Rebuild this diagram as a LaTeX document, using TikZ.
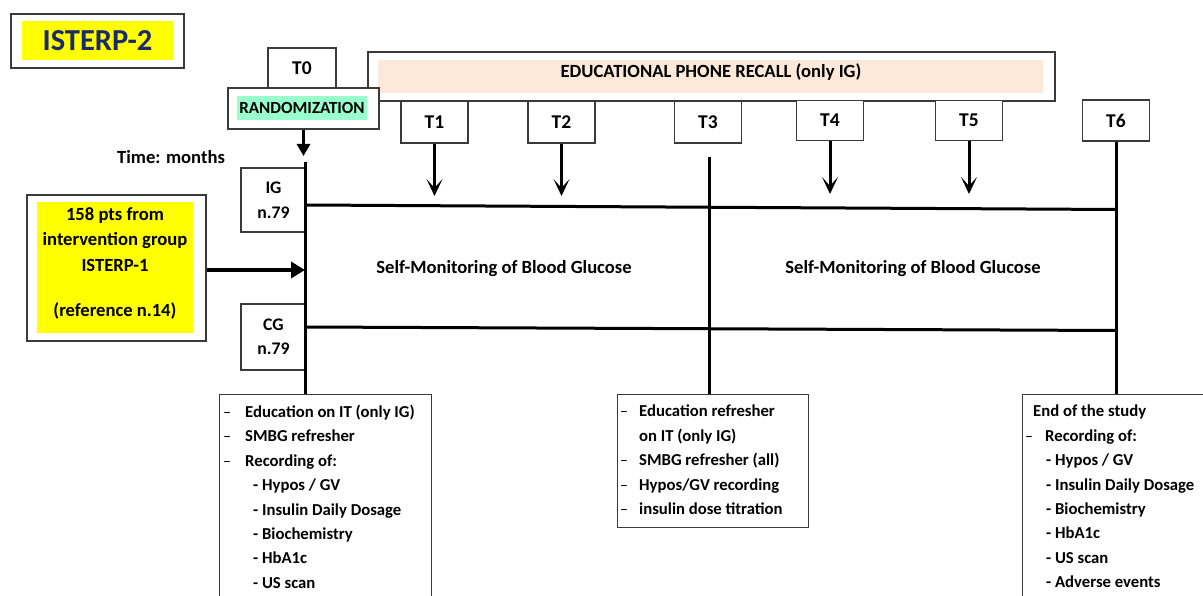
\documentclass[tikz,border=0pt]{standalone}
\usepackage{fontspec}
\setmainfont{Carlito}
\usetikzlibrary{arrows.meta}
\definecolor{navy}{HTML}{1B2A6B}
\definecolor{ylw}{HTML}{FFFF00}
\definecolor{mint}{HTML}{99FFCC}
\definecolor{peach}{HTML}{FDE9D9}
\definecolor{edge}{HTML}{3A3A3A}
\newcommand{\dsh}[1]{\makebox[#1][l]{\mdseries\fontsize{16}{16}\selectfont –}}
\begin{document}
\begin{tikzpicture}[x=1pt,y=-1pt,
  frame/.style={draw=edge, line width=1.1pt, fill=white, inner sep=0pt},
  fillbox/.style={inner sep=0pt},
  tlab/.style={font=\bfseries\fontsize{19.5}{22}\selectfont},
  txt/.style={font=\bfseries\fontsize{16.7}{24.4}\selectfont, inner sep=0pt},
  big/.style={font=\bfseries\fontsize{18.6}{22}\selectfont, inner sep=0pt},
  bar/.style={line width=3pt},
  arr/.style={line width=3pt, -{Triangle[length=12pt,width=13pt]}},
  varr/.style={line width=3pt, -{Stealth[length=17pt,width=16pt,inset=9pt]}},
  bigarr/.style={line width=3.5pt, -{Triangle[length=14pt,width=16pt]}}
]
\useasboundingbox (0,0) rectangle (1203,596);
\clip (0,0) rectangle (1203,596);
\fill[white] (0,0) rectangle (1203,596);

% title
\node[frame, minimum width=173pt, minimum height=54pt] (titlebox) at (97.5,41) {};
\node[fillbox, fill=ylw, text=navy, minimum width=151pt, minimum height=39pt,
      font=\bfseries\fontsize{30.5}{32}\selectfont] (title) at (97.5,40.5) {ISTERP-2};

% phone recall
\node[frame, minimum width=687pt, minimum height=49pt] (phone) at (711.5,76.5) {};
\node[fillbox, fill=peach, minimum width=665pt, minimum height=33pt] (phonefill) at (710.5,76.5) {};
\node[big] (phonetxt) at (711,72) {EDUCATIONAL PHONE RECALL (only IG)};

% T0 and randomization
\node[frame, minimum width=68pt, minimum height=42pt] (T0box) at (302,69) {};
\node[tlab] (T0) at (302,68) {T0};
\node[frame, minimum width=151pt, minimum height=41pt] (rand) at (303.5,108.5) {};
\node[fillbox, fill=mint, minimum width=130pt, minimum height=24pt,
      font=\bfseries\fontsize{17}{19}\selectfont] (randtxt) at (302,108) {RANDOMIZATION};

% time label
\node[big] (time) at (171,157) {Time: months};

% T boxes
\node[frame, tlab, minimum width=67pt, minimum height=42pt] (T1) at (434.5,122) {T1};
\node[frame, tlab, minimum width=67pt, minimum height=42pt] (T2) at (561.5,122) {T2};
\node[frame, tlab, minimum width=67pt, minimum height=42pt] (T3) at (708,122) {T3};
\node[frame, tlab, minimum width=67pt, minimum height=40pt] (T4) at (830,120.5) {T4};
\node[frame, tlab, minimum width=67pt, minimum height=40pt] (T5) at (969,120.5) {T5};
\node[frame, tlab, minimum width=67pt, minimum height=41pt] (T6) at (1116,120.5) {T6};

% arrows from T boxes
\coordinate (a1) at (434.5,196);
\coordinate (a2) at (561.5,196);
\coordinate (a4) at (830,194);
\coordinate (a5) at (969,194);
\draw[varr] (T1.south) -- (a1);
\draw[varr] (T2.south) -- (a2);
\draw[varr] (T4.south) -- (a4);
\draw[varr] (T5.south) -- (a5);

% randomization arrow
\coordinate (r1) at (303.5,156);
\draw[arr] (rand.south) -- (r1);

% bottom lists
\node[frame, minimum width=212pt, minimum height=220pt, anchor=north west] (list0) at (218.5,393.5) {};
\node[frame, minimum width=191pt, minimum height=133pt, anchor=north west] (list3) at (616.5,393.5) {};
\node[frame, minimum width=200pt, minimum height=220pt, anchor=north west] (list6) at (1021.5,393.5) {};

\node[txt, anchor=north west, align=left] (l0) at (223,405) {%
\dsh{22pt}Education on IT (only IG)\\
\dsh{22pt}SMBG refresher\\
\dsh{22pt}Recording of:\\
\hspace{30pt}- Hypos / GV\\
\hspace{30pt}- Insulin Daily Dosage\\
\hspace{30pt}- Biochemistry\\
\hspace{30pt}- HbA1c\\
\hspace{30pt}- US scan};

\node[txt, anchor=north west, align=left] (l3) at (620,405) {%
\dsh{19pt}Education refresher\\
\hspace{19pt}on IT (only IG)\\
\dsh{19pt}SMBG refresher (all)\\
\dsh{19pt}Hypos/GV recording\\
\dsh{19pt}insulin dose titration};

\node[txt, anchor=north west, align=left] (l6) at (1025,405) {%
\hspace{8pt}End of the study\\
\dsh{20pt}Recording of:\\
\hspace{21pt}- Hypos / GV\\
\hspace{21pt}- Insulin Daily Dosage\\
\hspace{21pt}- Biochemistry\\
\hspace{21pt}- HbA1c\\
\hspace{21pt}- US scan\\
\hspace{21pt}- Adverse events};

% timelines
\coordinate (v0top) at (305,162);
\coordinate (v0bot) at (305,393.5);
\coordinate (v3top) at (709,157);
\draw[bar] (v3top) -- (list3.north -| v3top);
\draw[bar] (T6.south) -- (list6.north -| T6.south);

% group boxes
\node[frame, align=center, font=\bfseries\fontsize{17.7}{25}\selectfont, minimum width=65pt, minimum height=64pt] (IG) at (273.5,200) {IG\\n.79};
\node[frame, align=center, font=\bfseries\fontsize{17.7}{24}\selectfont, minimum width=65pt, minimum height=66pt] (CG) at (273.5,337) {CG\\n.79};
\draw[bar] (v0top) -- (v0bot);

% horizontal group lines
\coordinate (igs) at (305,205);
\coordinate (cgs) at (305,327);
\coordinate (ige) at (1116,209.5);
\coordinate (cge) at (1116,330.5);
\draw[bar] (igs) -- (ige);
\draw[bar] (cgs) -- (cge);

% source box
\node[frame, minimum width=179pt, minimum height=146pt] (src) at (116.5,268) {};
\node[fillbox, fill=ylw, minimum width=156pt, minimum height=131pt] (srcfill) at (115,267.5) {};
\node[big, align=center, font=\bfseries\fontsize{18.6}{25.5}\selectfont] (srctxt) at (115,263.5)
      {158 pts from\\intervention group\\ISTERP-1\\[20pt](reference n.14)};
\coordinate (srcend) at (305,270);
\draw[bigarr] (src.east |- srcend) -- (srcend);

% SMBG labels
\node[big] (smbg1) at (504,269) {Self-Monitoring of Blood Glucose};
\node[big] (smbg2) at (913,269) {Self-Monitoring of Blood Glucose};
\end{tikzpicture}
\end{document}
